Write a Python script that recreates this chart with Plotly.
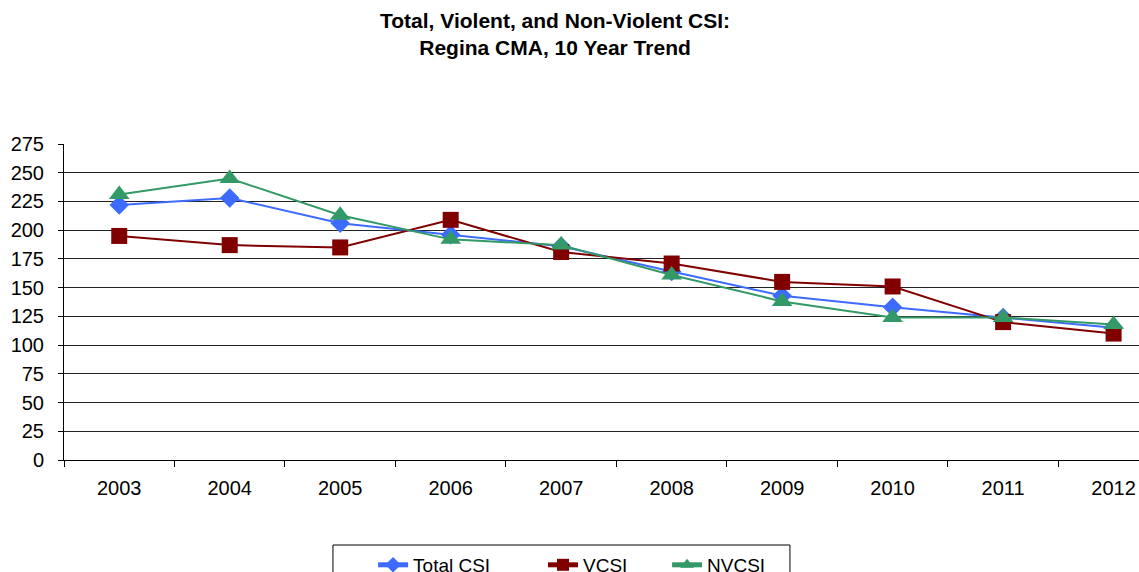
import plotly.graph_objects as go

years = ["2003", "2004", "2005", "2006", "2007", "2008", "2009", "2010", "2011", "2012"]
total_csi = [222, 228, 206, 196, 186, 164, 143, 133, 124, 115]
vcsi = [195, 187, 185, 209, 181, 171, 155, 151, 120, 110]
nvcsi = [231, 245, 213, 192, 187, 161, 138, 124, 124, 118]
y_ticks = list(range(0, 276, 25))

fig = go.Figure()
fig.add_trace(go.Scatter(x=years, y=total_csi, name="Total CSI", mode="lines+markers",
                         legend="legend",
                         line=dict(color="#3D6BFF", width=2),
                         marker=dict(symbol="diamond", size=15, color="#3D6BFF")))
fig.add_trace(go.Scatter(x=years, y=vcsi, name="VCSI", mode="lines+markers",
                         legend="legend2",
                         line=dict(color="#800000", width=2),
                         marker=dict(symbol="square", size=16, color="#800000")))
fig.add_trace(go.Scatter(x=years, y=nvcsi, name="NVCSI", mode="lines+markers",
                         legend="legend3",
                         line=dict(color="#339966", width=2),
                         marker=dict(symbol="triangle-up", size=18, color="#339966")))

leg_common = dict(orientation="h", xanchor="left", y=-0.272, yanchor="top",
                  borderwidth=0, bgcolor="rgba(0,0,0,0)", font=dict(size=19),
                  itemsizing="constant")

fig.update_layout(
    width=1139, height=572,
    margin=dict(l=64, r=0, t=144, b=112, autoexpand=False),
    paper_bgcolor="white", plot_bgcolor="white",
    font=dict(family="Liberation Sans, Arial, sans-serif", size=20, color="black"),
    title=dict(text="<b>Total, Violent, and Non-Violent CSI:<br>Regina CMA, 10 Year Trend</b>",
               x=0.4873, xanchor="center", y=0.951, yanchor="top",
               font=dict(size=21, color="black")),
    showlegend=True,
    legend=dict(x=0.2875, **leg_common),
    legend2=dict(x=0.4456, **leg_common),
    legend3=dict(x=0.5610, **leg_common),
    shapes=[dict(type="rect", xref="paper", yref="paper",
                 x0=0.2502, x1=0.6753, y0=-0.269, y1=-0.5,
                 line=dict(color="black", width=1), fillcolor="rgba(0,0,0,0)")],
)
fig.update_xaxes(type="category", range=[-0.5, 9.23], showgrid=False, automargin=False,
                 showline=True, linecolor="black", linewidth=1,
                 ticks="outside", tickson="boundaries", ticklen=6, tickcolor="black",
                 ticklabelstandoff=10, tickfont=dict(size=20), zeroline=False)
fig.update_yaxes(range=[0, 275], tickvals=y_ticks, showgrid=True, gridcolor="#222222",
                 gridwidth=1, showline=True, linecolor="black", linewidth=1, automargin=False,
                 ticks="outside", ticklen=5, tickcolor="black", zeroline=False,
                 ticklabelstandoff=10, tickfont=dict(size=20))

fig.write_html("out.html", config={"displayModeBar": False},
               post_script="document.body.style.margin='0';document.body.style.overflow='hidden';")
